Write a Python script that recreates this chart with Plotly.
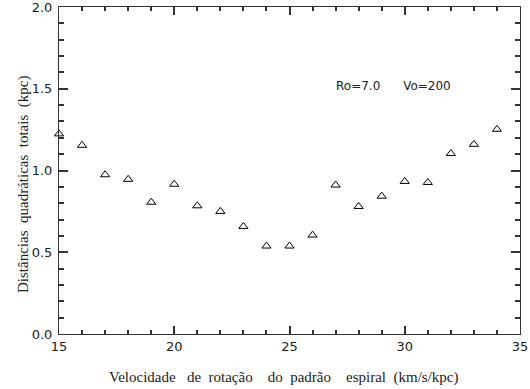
import plotly.graph_objects as go

vel = [15, 16, 17, 18, 19, 20, 21, 22, 23, 24, 25, 26, 27, 28, 29, 30, 31, 32, 33, 34]
dist = [1.224, 1.154, 0.974, 0.946, 0.806, 0.916, 0.784, 0.750, 0.658, 0.538,
        0.538, 0.605, 0.911, 0.780, 0.843, 0.933, 0.927, 1.104, 1.160, 1.252]
x_ticks = [15, 20, 25, 30, 35]
y_ticks = [0.0, 0.5, 1.0, 1.5, 2.0]
y_tick_text = ["0.0", "0.5", "1.0", "1.5", "2.0"]

axcol = "#333333"
tickfont = dict(family="DejaVu Sans", size=13, color="#222222")
serif = "Liberation Serif"
sp = "\u00a0"

fig = go.Figure()
fig.add_trace(go.Scatter(
    x=vel, y=dist, mode="markers",
    marker=dict(symbol="triangle-up-open", size=8, color="black",
                line=dict(width=1, color="black")),
    showlegend=False, cliponaxis=False,
))

xtitle = ("Velocidade" + sp * 3 + "de" + sp * 2 + "rota\u00e7\u00e3o" + sp * 4 + "do"
          + sp * 2 + "padr\u00e3o" + sp * 4 + "espiral" + sp * 2 + "(km/s/kpc)")
ytitle = ("Dist\u00e2ncias" + sp * 2 + "quadr\u00e1ticas" + sp * 2 + "totais"
          + sp * 2 + "(kpc)")

fig.update_layout(
    width=530, height=389,
    margin=dict(l=59, r=10, t=7, b=55, autoexpand=False),
    plot_bgcolor="white", paper_bgcolor="white",
    xaxis=dict(range=[15, 35], tickmode="array", tickvals=x_ticks, ticks="inside", ticklen=8,
               tickwidth=1.5, tickcolor=axcol, showline=True, linecolor=axcol, linewidth=1,
               mirror="allticks", showgrid=False, zeroline=False,
               tickfont=tickfont, automargin=False,
               minor=dict(dtick=1, ticks="inside", ticklen=4, tickcolor=axcol,
                          tickwidth=1.5, showgrid=False)),
    yaxis=dict(range=[0, 2.0], tickmode="array", tickvals=y_ticks, ticktext=y_tick_text,
               ticks="inside", ticklen=9, tickwidth=1.5, tickcolor=axcol, showline=True,
               linecolor=axcol, linewidth=1, mirror="allticks", showgrid=False,
               zeroline=False, tickfont=tickfont, ticklabelstandoff=3,
               automargin=False, ticklabeloverflow="allow",
               minor=dict(dtick=0.1, ticks="inside", ticklen=5, tickcolor=axcol,
                          tickwidth=1.5, showgrid=False)),
    annotations=[
        dict(text="Ro=7.0" + sp * 6 + "Vo=200", x=29.5, y=1.517,
             xref="x", yref="y", showarrow=False, xanchor="center", yanchor="middle",
             font=dict(family="DejaVu Sans", size=12, color="#222222")),
        dict(text=xtitle,
             x=(283.5 - 59) / 461, y=(334 - 377) / 327, xref="paper", yref="paper",
             showarrow=False, xanchor="center", yanchor="middle",
             font=dict(family=serif, size=15, color="#222222")),
        dict(text=ytitle,
             x=(23 - 59) / 461, y=(334 - 185) / 327, xref="paper", yref="paper",
             showarrow=False, xanchor="center", yanchor="middle", textangle=-90,
             font=dict(family=serif, size=15, color="#222222")),
    ],
)

fig.write_html("out.html")
